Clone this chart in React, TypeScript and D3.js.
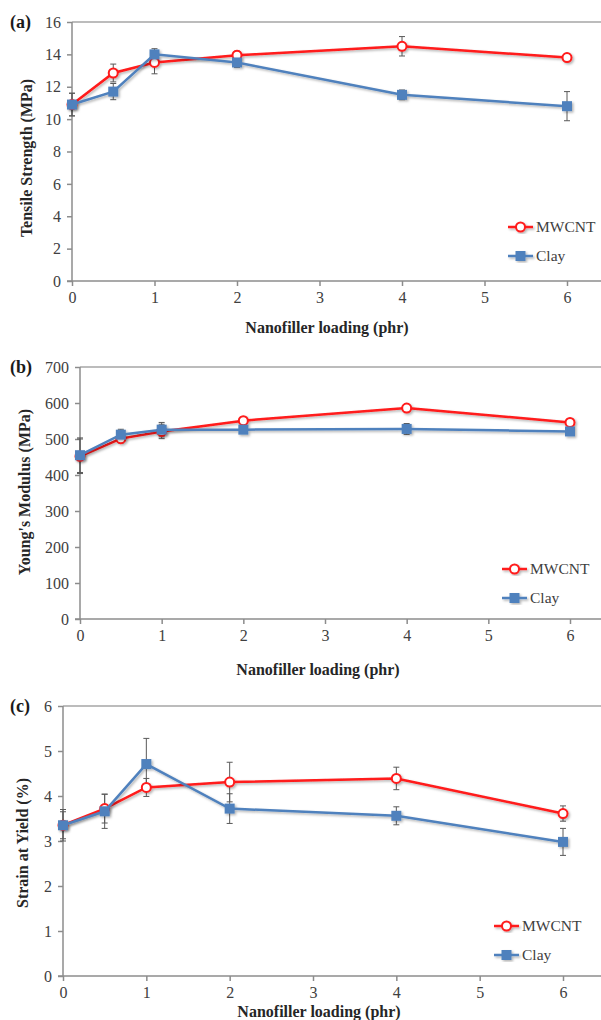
import { useEffect, useRef } from 'react';
import * as d3 from 'd3';

// nanofiller loading (phr)
const loading = [0, 0.5, 1, 2, 4, 6];
const xTicks = [0, 1, 2, 3, 4, 5, 6];

// (a) tensile strength, MPa
const tensileMWCNT = [10.9, 12.85, 13.5, 13.95, 14.5, 13.8];
const tensileMWCNTErr = [0.7, 0.55, 0.7, 0.25, 0.6, 0.2];
const tensileClay = [10.9, 11.7, 14.0, 13.5, 11.5, 10.8];
const tensileClayErr = [0.7, 0.5, 0.35, 0.3, 0.3, 0.9];

// (b) young's modulus, MPa
const modulusMWCNT = [452, 501, 521, 551, 586, 546];
const modulusMWCNTErr = [48, 12, 20, 10, 10, 10];
const modulusClay = [455, 512, 526, 526, 528, 521];
const modulusClayErr = [48, 15, 20, 8, 15, 8];

// (c) strain at yield, %
const strainMWCNT = [3.35, 3.72, 4.19, 4.31, 4.39, 3.61];
const strainMWCNTErr = [0.35, 0.32, 0.2, 0.44, 0.25, 0.17];
const strainClay = [3.35, 3.66, 4.71, 3.72, 3.56, 2.98];
const strainClayErr = [0.3, 0.38, 0.57, 0.33, 0.2, 0.3];

const seriesNames = ['MWCNT', 'Clay'];

const panels = [
  {
    tag: '(a)', yLabel: 'Tensile Strength (MPa)', yMax: 16, yStep: 2,
    mw: tensileMWCNT, mwErr: tensileMWCNTErr, clay: tensileClay, clayErr: tensileClayErr,
    x0: 72, x6: 567, top: 22, bottom: 281, legendX: 508, legendY: 227,
    titleX: 327, titleY: 333, yLabelX: 27, yLabelY: 158
  },
  {
    tag: '(b)', yLabel: "Young's Modulus (MPa)", yMax: 700, yStep: 100,
    mw: modulusMWCNT, mwErr: modulusMWCNTErr, clay: modulusClay, clayErr: modulusClayErr,
    x0: 80, x6: 570, top: 367, bottom: 619, legendX: 502, legendY: 569,
    titleX: 318, titleY: 675, yLabelX: 25, yLabelY: 492
  },
  {
    tag: '(c)', yLabel: 'Strain at Yield (%)', yMax: 6, yStep: 1,
    mw: strainMWCNT, mwErr: strainMWCNTErr, clay: strainClay, clayErr: strainClayErr,
    x0: 63, x6: 563, top: 706, bottom: 976, legendX: 494, legendY: 926,
    titleX: 319, titleY: 1017, yLabelX: 23, yLabelY: 843
  }
];

const RED = '#ff1a1a';
const BLUE = '#4f81bd';
const AXIS = '#8c8c8c';
const serif = '"Liberation Serif", "Times New Roman", serif';

export default function App() {
  const svgRef = useRef<SVGSVGElement>(null);

  useEffect(() => {
    const svg = d3.select(svgRef.current);
    svg.selectAll('*').remove();

    const width = 601;
    const height = 1020;
    svg.attr('width', width).attr('height', height);

    const defs = svg.append('defs');
    defs.append('filter')
      .attr('id', 'shadow')
      .attr('x', '-20%').attr('y', '-20%')
      .attr('width', '140%').attr('height', '140%')
      .append('feDropShadow')
      .attr('dx', 1.5).attr('dy', 1.5)
      .attr('stdDeviation', 1.2)
      .attr('flood-color', '#000')
      .attr('flood-opacity', 0.3);

    panels.forEach(p => {
      const g = svg.append('g');

      const x = d3.scaleLinear().domain([0, 6]).range([p.x0, p.x6]);
      const y = d3.scaleLinear().domain([0, p.yMax]).range([p.bottom, p.top]);
      const yTicks = d3.range(0, p.yMax + p.yStep / 2, p.yStep);

      // frame: top border, left axis, bottom axis
      g.append('line')
        .attr('x1', p.x0).attr('x2', width)
        .attr('y1', p.top).attr('y2', p.top)
        .attr('stroke', '#a6a6a6').attr('stroke-width', 1.5);

      const yAxis = g.append('g')
        .attr('transform', `translate(${p.x0},0)`)
        .call(d3.axisLeft(y).tickValues(yTicks).tickSize(5).tickPadding(6).tickFormat(d3.format('d')));
      const xAxis = g.append('g')
        .attr('transform', `translate(0,${p.bottom})`)
        .call(d3.axisBottom(x).tickValues(xTicks).tickSize(5).tickPadding(6).tickFormat(d3.format('d')));

      [yAxis, xAxis].forEach(ax => {
        ax.attr('font-family', serif).attr('font-size', 16);
        ax.select('.domain').remove();
        ax.selectAll('line').attr('stroke', AXIS).attr('stroke-width', 1.5);
        ax.selectAll('text').attr('fill', '#404040');
      });

      g.append('line')
        .attr('x1', p.x0).attr('x2', p.x0)
        .attr('y1', p.top).attr('y2', p.bottom)
        .attr('stroke', AXIS).attr('stroke-width', 1.5);
      g.append('line')
        .attr('x1', p.x0 - 5).attr('x2', width)
        .attr('y1', p.bottom).attr('y2', p.bottom)
        .attr('stroke', AXIS).attr('stroke-width', 1.5);

      // error bars
      const errs = [
        { vals: p.mw, err: p.mwErr },
        { vals: p.clay, err: p.clayErr }
      ];
      errs.forEach(s => {
        loading.forEach((l, i) => {
          const cx = x(l);
          const y1 = y(s.vals[i] + s.err[i]);
          const y2 = y(s.vals[i] - s.err[i]);
          g.append('line')
            .attr('x1', cx).attr('x2', cx).attr('y1', y1).attr('y2', y2)
            .attr('stroke', '#595959').attr('stroke-width', 1);
          [y1, y2].forEach(yy => {
            g.append('line')
              .attr('x1', cx - 3).attr('x2', cx + 3).attr('y1', yy).attr('y2', yy)
              .attr('stroke', '#595959').attr('stroke-width', 1);
          });
        });
      });

      const line = d3.line<number>()
        .x((_, i) => x(loading[i]))
        .y(d => y(d));

      // MWCNT
      const mwG = g.append('g').attr('filter', 'url(#shadow)');
      mwG.append('path')
        .datum(p.mw)
        .attr('d', line)
        .attr('fill', 'none')
        .attr('stroke', RED)
        .attr('stroke-width', 2.5);
      mwG.selectAll('circle')
        .data(p.mw)
        .join('circle')
        .attr('cx', (_, i) => x(loading[i]))
        .attr('cy', d => y(d))
        .attr('r', 4.5)
        .attr('fill', '#fff')
        .attr('stroke', RED)
        .attr('stroke-width', 2);

      // Clay
      const clG = g.append('g').attr('filter', 'url(#shadow)');
      clG.append('path')
        .datum(p.clay)
        .attr('d', line)
        .attr('fill', 'none')
        .attr('stroke', BLUE)
        .attr('stroke-width', 2.5);
      clG.selectAll('rect')
        .data(p.clay)
        .join('rect')
        .attr('x', (_, i) => x(loading[i]) - 5)
        .attr('y', d => y(d) - 5)
        .attr('width', 10)
        .attr('height', 10)
        .attr('fill', BLUE);

      // legend
      seriesNames.forEach((name, i) => {
        const ly = p.legendY + i * 29;
        const lg = g.append('g').attr('filter', 'url(#shadow)');
        lg.append('line')
          .attr('x1', p.legendX).attr('x2', p.legendX + 25)
          .attr('y1', ly).attr('y2', ly)
          .attr('stroke', i === 0 ? RED : BLUE)
          .attr('stroke-width', 2.5);
        if (i === 0) {
          lg.append('circle')
            .attr('cx', p.legendX + 12.5).attr('cy', ly).attr('r', 4.5)
            .attr('fill', '#fff').attr('stroke', RED).attr('stroke-width', 2);
        } else {
          lg.append('rect')
            .attr('x', p.legendX + 7.5).attr('y', ly - 5)
            .attr('width', 10).attr('height', 10)
            .attr('fill', BLUE);
        }
        g.append('text')
          .attr('x', p.legendX + 28)
          .attr('y', ly)
          .attr('dy', '0.35em')
          .attr('font-family', serif)
          .attr('font-size', 15.5)
          .attr('fill', '#404040')
          .text(name);
      });

      // titles
      g.append('text')
        .attr('x', p.titleX)
        .attr('y', p.titleY)
        .attr('text-anchor', 'middle')
        .attr('font-family', serif)
        .attr('font-size', 16)
        .attr('font-weight', 'bold')
        .attr('fill', '#262626')
        .text('Nanofiller loading (phr)');

      g.append('text')
        .attr('transform', `translate(${p.yLabelX + 5},${p.yLabelY}) rotate(-90)`)
        .attr('text-anchor', 'middle')
        .attr('font-family', serif)
        .attr('font-size', 16)
        .attr('font-weight', 'bold')
        .attr('fill', '#262626')
        .text(p.yLabel);

      g.append('text')
        .attr('x', 10)
        .attr('y', p.top + 6)
        .attr('font-family', serif)
        .attr('font-size', 18)
        .attr('font-weight', 'bold')
        .attr('fill', '#1a1a1a')
        .text(p.tag);
    });
  }, []);

  return <svg ref={svgRef} style={{ position: 'absolute', left: 0, top: 0 }}></svg>;
}
